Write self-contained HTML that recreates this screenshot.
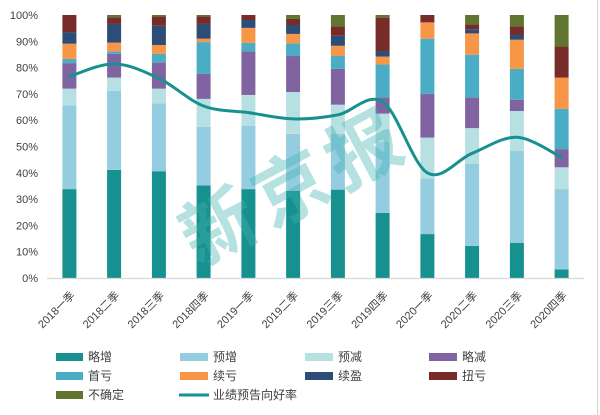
<!DOCTYPE html>
<html><head><meta charset="utf-8">
<style>
html,body{margin:0;padding:0;background:#fff;}
svg{display:block;}
.t{font-family:"Liberation Sans","Noto Sans CJK SC",sans-serif;fill:#404040;}
.a{fill:#17918f}.b{fill:#95cde0}.c{fill:#b7e0e2}.d{fill:#8064a2}.e{fill:#4bacc6}.f{fill:#f79646}.g{fill:#2c4d75}.h{fill:#772c2a}.i{fill:#5f7530}
</style></head>
<body>
<svg width="600" height="415" viewBox="0 0 600 415" xmlns="http://www.w3.org/2000/svg">
<rect width="600" height="415" fill="#fff"/>
<line x1="597.5" y1="0" x2="597.5" y2="415" stroke="#d0d0d0" stroke-width="1"/>

<!-- y labels -->
<g class="t" font-size="11" text-anchor="end">
<text x="38" y="19">100%</text>
<text x="38" y="45.3">90%</text>
<text x="38" y="71.6">80%</text>
<text x="38" y="97.9">70%</text>
<text x="38" y="124.2">60%</text>
<text x="38" y="150.5">50%</text>
<text x="38" y="176.8">40%</text>
<text x="38" y="203.1">30%</text>
<text x="38" y="229.4">20%</text>
<text x="38" y="255.7">10%</text>
<text x="38" y="282">0%</text>
</g>

<!-- bars -->
<g transform="translate(62.4,278) scale(1,-2.63)">
<rect class="a" x="0" width="14" y="0" height="33.8"/><rect class="b" x="0" width="14" y="33.8" height="31.9"/><rect class="c" x="0" width="14" y="65.7" height="6.3"/><rect class="d" x="0" width="14" y="72" height="9.7"/><rect class="e" x="0" width="14" y="81.7" height="1.6"/><rect class="f" x="0" width="14" y="83.3" height="5.8"/><rect class="g" x="0" width="14" y="89.1" height="4.4"/><rect class="h" x="0" width="14" y="93.5" height="6.5"/>
</g>
<g transform="translate(107.1,278) scale(1,-2.63)">
<rect class="a" x="0" width="14" y="0" height="41.1"/><rect class="b" x="0" width="14" y="41.1" height="30.1"/><rect class="c" x="0" width="14" y="71.2" height="5"/><rect class="d" x="0" width="14" y="76.2" height="9"/><rect class="e" x="0" width="14" y="85.2" height="0.9"/><rect class="f" x="0" width="14" y="86.1" height="3.4"/><rect class="g" x="0" width="14" y="89.5" height="7.1"/><rect class="h" x="0" width="14" y="96.6" height="2.5"/><rect class="i" x="0" width="14" y="99.1" height="0.9"/>
</g>
<g transform="translate(151.9,278) scale(1,-2.63)">
<rect class="a" x="0" width="14" y="0" height="40.6"/><rect class="b" x="0" width="14" y="40.6" height="25.8"/><rect class="c" x="0" width="14" y="66.4" height="5.6"/><rect class="d" x="0" width="14" y="72" height="9.9"/><rect class="e" x="0" width="14" y="81.9" height="3.3"/><rect class="f" x="0" width="14" y="85.2" height="3.4"/><rect class="g" x="0" width="14" y="88.6" height="7.3"/><rect class="h" x="0" width="14" y="95.9" height="3.5"/><rect class="i" x="0" width="14" y="99.4" height="0.6"/>
</g>
<g transform="translate(196.6,278) scale(1,-2.63)">
<rect class="a" x="0" width="14" y="0" height="35.2"/><rect class="b" x="0" width="14" y="35.2" height="22.3"/><rect class="c" x="0" width="14" y="57.5" height="10.6"/><rect class="d" x="0" width="14" y="68.1" height="9.5"/><rect class="e" x="0" width="14" y="77.6" height="12.1"/><rect class="f" x="0" width="14" y="89.7" height="1.3"/><rect class="g" x="0" width="14" y="91" height="5.6"/><rect class="h" x="0" width="14" y="96.6" height="2.8"/><rect class="i" x="0" width="14" y="99.4" height="0.6"/>
</g>
<g transform="translate(241.4,278) scale(1,-2.63)">
<rect class="a" x="0" width="14" y="0" height="33.8"/><rect class="b" x="0" width="14" y="33.8" height="24"/><rect class="c" x="0" width="14" y="57.8" height="11.8"/><rect class="d" x="0" width="14" y="69.6" height="16.5"/><rect class="e" x="0" width="14" y="86.1" height="3.3"/><rect class="f" x="0" width="14" y="89.4" height="5.7"/><rect class="g" x="0" width="14" y="95.1" height="3"/><rect class="h" x="0" width="14" y="98.1" height="1.9"/>
</g>
<g transform="translate(286.1,278) scale(1,-2.63)">
<rect class="a" x="0" width="14" y="0" height="33.1"/><rect class="b" x="0" width="14" y="33.1" height="21.7"/><rect class="c" x="0" width="14" y="54.8" height="15.9"/><rect class="d" x="0" width="14" y="70.7" height="13.7"/><rect class="e" x="0" width="14" y="84.4" height="4.8"/><rect class="f" x="0" width="14" y="89.2" height="3.6"/><rect class="g" x="0" width="14" y="92.8" height="3.4"/><rect class="h" x="0" width="14" y="96.2" height="2.3"/><rect class="i" x="0" width="14" y="98.5" height="1.5"/>
</g>
<g transform="translate(330.9,278) scale(1,-2.63)">
<rect class="a" x="0" width="14" y="0" height="33.6"/><rect class="b" x="0" width="14" y="33.6" height="21.2"/><rect class="c" x="0" width="14" y="54.8" height="11.1"/><rect class="d" x="0" width="14" y="65.9" height="13.6"/><rect class="e" x="0" width="14" y="79.5" height="4.9"/><rect class="f" x="0" width="14" y="84.4" height="3.9"/><rect class="g" x="0" width="14" y="88.3" height="3.8"/><rect class="h" x="0" width="14" y="92.1" height="3.5"/><rect class="i" x="0" width="14" y="95.6" height="4.4"/>
</g>
<g transform="translate(375.6,278) scale(1,-2.63)">
<rect class="a" x="0" width="14" y="0" height="24.8"/><rect class="b" x="0" width="14" y="24.8" height="26.9"/><rect class="c" x="0" width="14" y="51.7" height="10.8"/><rect class="d" x="0" width="14" y="62.5" height="6.1"/><rect class="e" x="0" width="14" y="68.6" height="12.6"/><rect class="f" x="0" width="14" y="81.2" height="3"/><rect class="g" x="0" width="14" y="84.2" height="2.1"/><rect class="h" x="0" width="14" y="86.3" height="12.7"/><rect class="i" x="0" width="14" y="99" height="1"/>
</g>
<g transform="translate(420.4,278) scale(1,-2.63)">
<rect class="a" x="0" width="14" y="0" height="16.7"/><rect class="b" x="0" width="14" y="16.7" height="21.1"/><rect class="c" x="0" width="14" y="37.8" height="15.6"/><rect class="d" x="0" width="14" y="53.4" height="16.6"/><rect class="e" x="0" width="14" y="70" height="21"/><rect class="f" x="0" width="14" y="91" height="6.2"/><rect class="h" x="0" width="14" y="97.2" height="2.8"/>
</g>
<g transform="translate(465.1,278) scale(1,-2.63)">
<rect class="a" x="0" width="14" y="0" height="12.2"/><rect class="b" x="0" width="14" y="12.2" height="31.3"/><rect class="c" x="0" width="14" y="43.5" height="13.5"/><rect class="d" x="0" width="14" y="57" height="11.6"/><rect class="e" x="0" width="14" y="68.6" height="16.3"/><rect class="f" x="0" width="14" y="84.9" height="8.1"/><rect class="g" x="0" width="14" y="93" height="1.6"/><rect class="h" x="0" width="14" y="94.6" height="1.9"/><rect class="i" x="0" width="14" y="96.5" height="3.5"/>
</g>
<g transform="translate(509.9,278) scale(1,-2.63)">
<rect class="a" x="0" width="14" y="0" height="13.4"/><rect class="b" x="0" width="14" y="13.4" height="34.9"/><rect class="c" x="0" width="14" y="48.3" height="15.2"/><rect class="d" x="0" width="14" y="63.5" height="4.3"/><rect class="e" x="0" width="14" y="67.8" height="11.7"/><rect class="f" x="0" width="14" y="79.5" height="11.1"/><rect class="g" x="0" width="14" y="90.6" height="1.8"/><rect class="h" x="0" width="14" y="92.4" height="3.2"/><rect class="i" x="0" width="14" y="95.6" height="4.4"/>
</g>
<g transform="translate(554.6,278) scale(1,-2.63)">
<rect class="a" x="0" width="14" y="0" height="3.3"/><rect class="b" x="0" width="14" y="3.3" height="30.5"/><rect class="c" x="0" width="14" y="33.8" height="8.3"/><rect class="d" x="0" width="14" y="42.1" height="6.9"/><rect class="e" x="0" width="14" y="49" height="15.3"/><rect class="f" x="0" width="14" y="64.3" height="11.9"/><rect class="h" x="0" width="14" y="76.2" height="11.8"/><rect class="i" x="0" width="14" y="88" height="12"/>
</g>

<!-- axis -->
<line x1="47" y1="278.5" x2="584" y2="278.5" stroke="#d9d9d9" stroke-width="1.2"/>

<!-- watermark -->
<text x="0" y="0" text-anchor="middle" dominant-baseline="central" transform="translate(292,182) rotate(-28)" font-family="'Noto Sans CJK SC','WenQuanYi Zen Hei',sans-serif" font-weight="700" font-size="74" letter-spacing="8" fill="#3fb0b0" fill-opacity="0.38">新京报</text>

<!-- line -->
<path d="M69.4,76.5 C76.85,74.4 99.18,63.58 114.1,63.9 C129.02,64.22 143.98,71.38 158.9,78.4 C173.82,85.42 188.68,100.3 203.6,106 C218.52,111.7 233.48,110.45 248.4,112.6 C263.32,114.75 278.18,118.52 293.1,118.9 C308.02,119.28 322.98,117.75 337.9,114.9 C352.82,112.05 367.68,92.15 382.6,101.8 C397.52,111.45 412.48,164.22 427.4,172.8 C442.32,181.38 457.18,159.22 472.1,153.3 C487.02,147.38 501.98,136.63 516.9,137.3 C531.82,137.97 554.15,153.97 561.6,157.3" fill="none" stroke="#17918f" stroke-width="3" stroke-linecap="round"/>

<!-- x labels -->
<g class="t" font-size="11" text-anchor="end">
<text transform="translate(75.4,296) rotate(-45)">2018一季</text>
<text transform="translate(120.1,296) rotate(-45)">2018二季</text>
<text transform="translate(164.9,296) rotate(-45)">2018三季</text>
<text transform="translate(209.6,296) rotate(-45)">2018四季</text>
<text transform="translate(254.4,296) rotate(-45)">2019一季</text>
<text transform="translate(299.1,296) rotate(-45)">2019二季</text>
<text transform="translate(343.9,296) rotate(-45)">2019三季</text>
<text transform="translate(388.6,296) rotate(-45)">2019四季</text>
<text transform="translate(433.4,296) rotate(-45)">2020一季</text>
<text transform="translate(478.1,296) rotate(-45)">2020二季</text>
<text transform="translate(522.9,296) rotate(-45)">2020三季</text>
<text transform="translate(567.6,296) rotate(-45)">2020四季</text>
</g>

<!-- legend -->
<g>
<rect class="a" x="56" y="353" width="27" height="8"/>
<rect class="b" x="180" y="353" width="28" height="8"/>
<rect class="c" x="305" y="353" width="28" height="8"/>
<rect class="d" x="429" y="353" width="28" height="8"/>
<rect class="e" x="56" y="372" width="27" height="8"/>
<rect class="f" x="180" y="372" width="28" height="8"/>
<rect class="g" x="305" y="372" width="28" height="8"/>
<rect class="h" x="429" y="372" width="28" height="8"/>
<rect class="i" x="56" y="391" width="27" height="8"/>
<line x1="179" y1="395" x2="209" y2="395" stroke="#17918f" stroke-width="3"/>
</g>
<g class="t" font-size="12">
<text x="88" y="361">略增</text>
<text x="213" y="361">预增</text>
<text x="338" y="361">预减</text>
<text x="462" y="361">略减</text>
<text x="88" y="380">首亏</text>
<text x="213" y="380">续亏</text>
<text x="338" y="380">续盈</text>
<text x="462" y="380">扭亏</text>
<text x="88" y="399">不确定</text>
<text x="213" y="399">业绩预告向好率</text>
</g>
</svg>
</body></html>
